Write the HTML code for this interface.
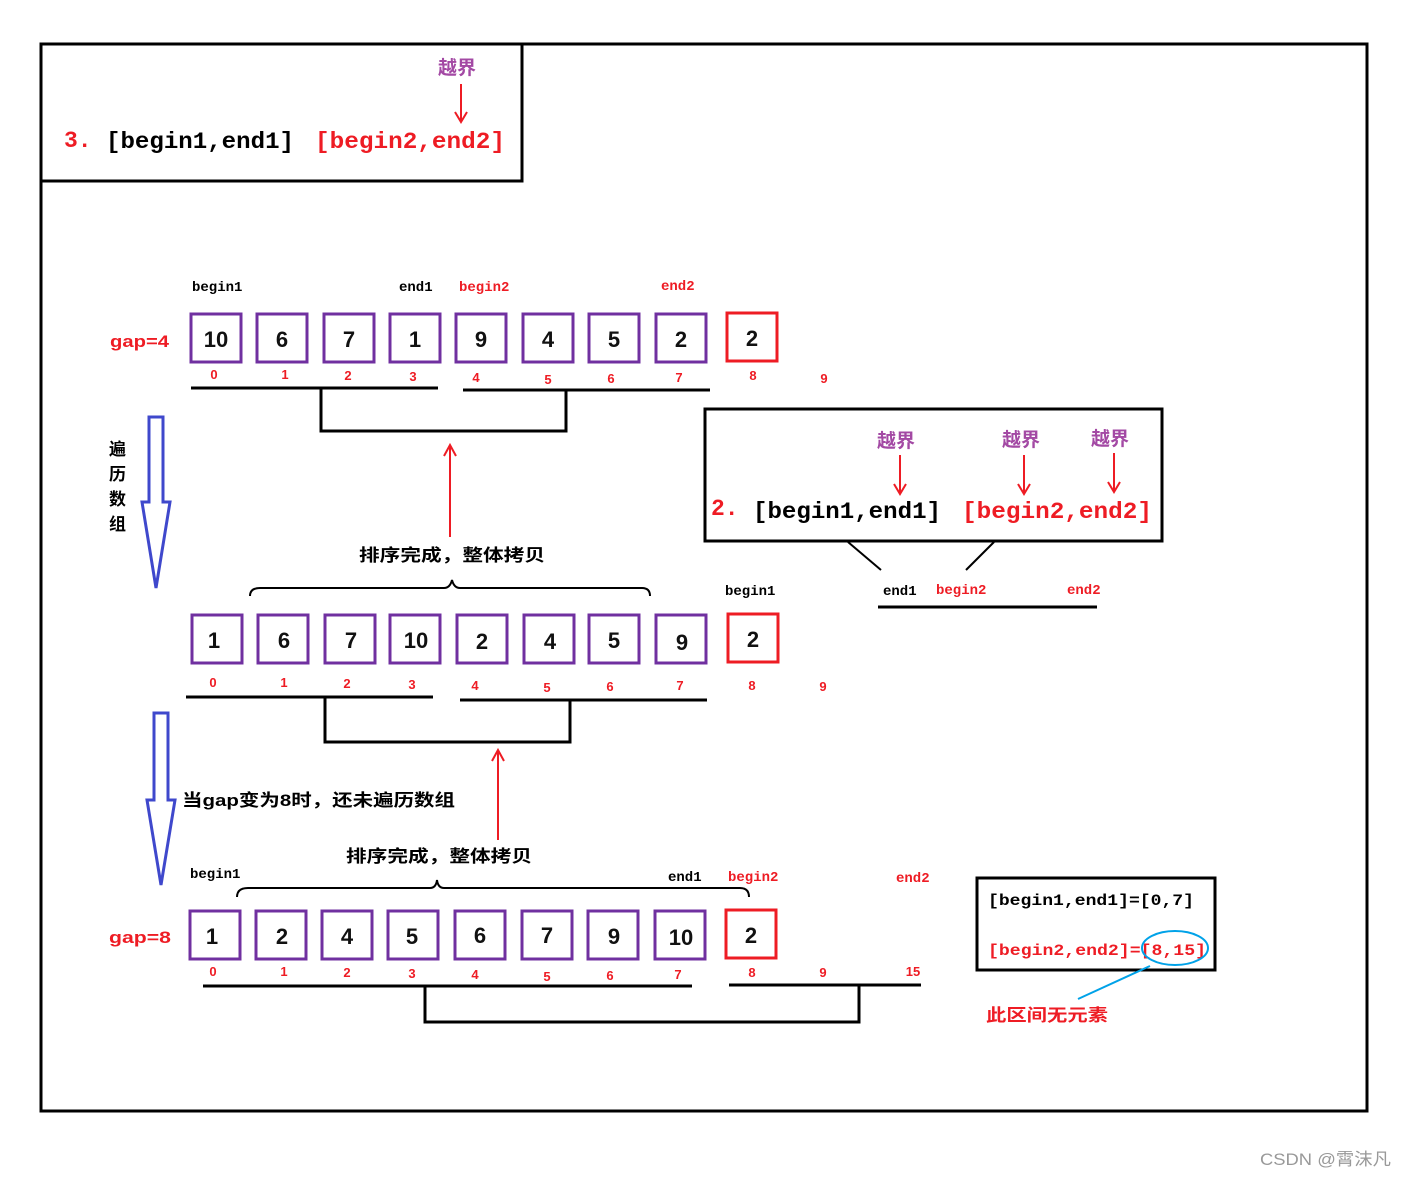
<!DOCTYPE html>
<html><head><meta charset="utf-8"><style>
html,body{margin:0;padding:0;background:#fff;}
svg{display:block;}
text{font-family:"Liberation Sans","Noto Sans CJK SC",sans-serif;font-weight:bold;}
.m{font-family:"Liberation Mono","Noto Sans CJK SC",monospace;}
.r{fill:#ee1c24;}
.p{fill:#a349a4;}
.k{fill:#000;}
.box{fill:none;stroke:#7030a0;stroke-width:3;}
.rb{fill:none;stroke:#ee1c24;stroke-width:3;}
.num{font-size:22px;text-anchor:middle;fill:#111;}
.idx{font-size:13px;text-anchor:middle;fill:#ee1c24;}
.lb{font-size:14px;}
</style></head><body>
<svg width="1407" height="1177" viewBox="0 0 1407 1177" xmlns="http://www.w3.org/2000/svg">
<rect x="41" y="44" width="1326" height="1067" fill="none" stroke="#000" stroke-width="3"/>
<rect x="41" y="44" width="481" height="137" fill="none" stroke="#000" stroke-width="3"/>
<text x="438" y="74" class="p" font-size="19">越界</text>
<line x1="461" y1="84" x2="461" y2="120" stroke="#ee1c24" stroke-width="2"/>
<path d="M455,112 L461,122 L467,112" fill="none" stroke="#ee1c24" stroke-width="2"/>
<text x="64" y="147" class="m r" font-size="23" font-weight="normal">3.</text>
<text x="106" y="148" class="m k" font-size="23" textLength="188" lengthAdjust="spacingAndGlyphs">[begin1,end1]</text>
<text x="315" y="148" class="m r" font-size="23" font-weight="normal" textLength="190" lengthAdjust="spacingAndGlyphs">[begin2,end2]</text>

<text x="192" y="291" class="m k lb">begin1</text>
<text x="399" y="291" class="m k lb">end1</text>
<text x="459" y="291" class="m r lb">begin2</text>
<text x="661" y="290" class="m r lb">end2</text>
<text x="110" y="347" class="r" font-size="17" font-weight="normal" textLength="59" lengthAdjust="spacingAndGlyphs">gap=4</text>
<g>
<rect x="191" y="314" width="50" height="48" class="box"/><text x="216" y="347" class="num">10</text>
<rect x="257" y="314" width="50" height="48" class="box"/><text x="282" y="347" class="num">6</text>
<rect x="324" y="314" width="50" height="48" class="box"/><text x="349" y="347" class="num">7</text>
<rect x="390" y="314" width="50" height="48" class="box"/><text x="415" y="347" class="num">1</text>
<rect x="456" y="314" width="50" height="48" class="box"/><text x="481" y="347" class="num">9</text>
<rect x="523" y="314" width="50" height="48" class="box"/><text x="548" y="347" class="num">4</text>
<rect x="589" y="314" width="50" height="48" class="box"/><text x="614" y="347" class="num">5</text>
<rect x="656" y="314" width="50" height="48" class="box"/><text x="681" y="347" class="num">2</text>
<rect x="727" y="313" width="50" height="48" class="rb"/><text x="752" y="346" class="num">2</text>
</g>
<text x="214" y="379" class="idx">0</text><text x="285" y="379" class="idx">1</text><text x="348" y="380" class="idx">2</text><text x="413" y="381" class="idx">3</text><text x="476" y="382" class="idx">4</text><text x="548" y="384" class="idx">5</text><text x="611" y="383" class="idx">6</text><text x="679" y="382" class="idx">7</text><text x="753" y="380" class="idx">8</text><text x="824" y="383" class="idx">9</text>
<g stroke="#000" stroke-width="3" fill="none">
<line x1="191" y1="388" x2="438" y2="388"/>
<line x1="463" y1="390" x2="710" y2="390"/>
<path d="M321,388 V431 H566 V390"/>
</g>

<path d="M149,417 H163 V502 H170 L156,588 L142,502 H149 Z" fill="none" stroke="#3f48cc" stroke-width="3"/>
<text x="109" y="455" class="k" font-size="17">遍</text>
<text x="109" y="480" class="k" font-size="17">历</text>
<text x="109" y="505" class="k" font-size="17">数</text>
<text x="109" y="530" class="k" font-size="17">组</text>

<line x1="450" y1="537" x2="450" y2="446" stroke="#ee1c24" stroke-width="2"/>
<path d="M444,456 L450,445 L456,456" fill="none" stroke="#ee1c24" stroke-width="2"/>
<text x="359" y="561" class="k" font-size="17" textLength="186" lengthAdjust="spacingAndGlyphs">排序完成，整体拷贝</text>
<path d="M250,596 Q250,588 260,588 H444 Q450,588 452,580 Q454,588 460,588 H642 Q650,588 650,596" fill="none" stroke="#000" stroke-width="2"/>

<rect x="705" y="409" width="457" height="132" fill="none" stroke="#000" stroke-width="3"/>
<text x="877" y="447" class="p" font-size="19">越界</text>
<text x="1002" y="446" class="p" font-size="19">越界</text>
<text x="1091" y="445" class="p" font-size="19">越界</text>
<g stroke="#ee1c24" stroke-width="2" fill="none">
<line x1="900" y1="455" x2="900" y2="492"/><path d="M894,484 L900,494 L906,484"/>
<line x1="1024" y1="455" x2="1024" y2="492"/><path d="M1018,484 L1024,494 L1030,484"/>
<line x1="1114" y1="453" x2="1114" y2="490"/><path d="M1108,482 L1114,492 L1120,482"/>
</g>
<text x="711" y="515" class="m r" font-size="23" font-weight="normal">2.</text>
<text x="753" y="518" class="m k" font-size="23" textLength="188" lengthAdjust="spacingAndGlyphs">[begin1,end1]</text>
<text x="962" y="518" class="m r" font-size="23" font-weight="normal" textLength="190" lengthAdjust="spacingAndGlyphs">[begin2,end2]</text>
<line x1="848" y1="542" x2="881" y2="570" stroke="#000" stroke-width="2"/>
<line x1="994" y1="542" x2="966" y2="570" stroke="#000" stroke-width="2"/>
<text x="725" y="595" class="m k lb">begin1</text>
<text x="883" y="595" class="m k lb">end1</text>
<text x="936" y="594" class="m r lb">begin2</text>
<text x="1067" y="594" class="m r lb">end2</text>
<line x1="878" y1="607" x2="1097" y2="607" stroke="#000" stroke-width="3"/>

<g>
<rect x="192" y="615" width="50" height="48" class="box"/><text x="214" y="648" class="num">1</text>
<rect x="258" y="615" width="50" height="48" class="box"/><text x="284" y="648" class="num">6</text>
<rect x="325" y="615" width="50" height="48" class="box"/><text x="351" y="648" class="num">7</text>
<rect x="390" y="615" width="50" height="48" class="box"/><text x="416" y="648" class="num">10</text>
<rect x="457" y="615" width="50" height="48" class="box"/><text x="482" y="649" class="num">2</text>
<rect x="524" y="615" width="50" height="48" class="box"/><text x="550" y="649" class="num">4</text>
<rect x="589" y="615" width="50" height="48" class="box"/><text x="614" y="648" class="num">5</text>
<rect x="656" y="615" width="50" height="48" class="box"/><text x="682" y="650" class="num">9</text>
<rect x="728" y="614" width="50" height="48" class="rb"/><text x="753" y="647" class="num">2</text>
</g>
<text x="213" y="687" class="idx">0</text><text x="284" y="687" class="idx">1</text><text x="347" y="688" class="idx">2</text><text x="412" y="689" class="idx">3</text><text x="475" y="690" class="idx">4</text><text x="547" y="692" class="idx">5</text><text x="610" y="691" class="idx">6</text><text x="680" y="690" class="idx">7</text><text x="752" y="690" class="idx">8</text><text x="823" y="691" class="idx">9</text>
<g stroke="#000" stroke-width="3" fill="none">
<line x1="186" y1="697" x2="433" y2="697"/>
<line x1="460" y1="700" x2="707" y2="700"/>
<path d="M325,697 V742 H570 V700"/>
</g>

<path d="M154,713 H168 V800 H175 L161,885 L147,800 H154 Z" fill="none" stroke="#3f48cc" stroke-width="3"/>
<text x="182" y="806" class="k" font-size="17" textLength="273" lengthAdjust="spacingAndGlyphs">当gap变为8时，还未遍历数组</text>
<line x1="498" y1="840" x2="498" y2="751" stroke="#ee1c24" stroke-width="2"/>
<path d="M492,761 L498,750 L504,761" fill="none" stroke="#ee1c24" stroke-width="2"/>
<text x="346" y="862" class="k" font-size="17" textLength="186" lengthAdjust="spacingAndGlyphs">排序完成，整体拷贝</text>
<path d="M237,897 Q237,888 248,888 H430 Q436,888 437,880 Q438,888 444,888 H740 Q749,888 749,897" fill="none" stroke="#000" stroke-width="2"/>
<text x="190" y="878" class="m k lb">begin1</text>
<text x="668" y="881" class="m k lb">end1</text>
<text x="728" y="881" class="m r lb">begin2</text>
<text x="896" y="882" class="m r lb">end2</text>

<text x="109" y="943" class="r" font-size="17" font-weight="normal" textLength="62" lengthAdjust="spacingAndGlyphs">gap=8</text>
<g>
<rect x="190" y="911" width="50" height="48" class="box"/><text x="212" y="944" class="num">1</text>
<rect x="256" y="911" width="50" height="48" class="box"/><text x="282" y="944" class="num">2</text>
<rect x="322" y="911" width="50" height="48" class="box"/><text x="347" y="944" class="num">4</text>
<rect x="388" y="911" width="50" height="48" class="box"/><text x="412" y="944" class="num">5</text>
<rect x="455" y="911" width="50" height="48" class="box"/><text x="480" y="943" class="num">6</text>
<rect x="522" y="911" width="50" height="48" class="box"/><text x="547" y="943" class="num">7</text>
<rect x="588" y="911" width="50" height="48" class="box"/><text x="614" y="944" class="num">9</text>
<rect x="655" y="911" width="50" height="48" class="box"/><text x="681" y="945" class="num">10</text>
<rect x="726" y="910" width="50" height="48" class="rb"/><text x="751" y="943" class="num">2</text>
</g>
<text x="213" y="976" class="idx">0</text><text x="284" y="976" class="idx">1</text><text x="347" y="977" class="idx">2</text><text x="412" y="978" class="idx">3</text><text x="475" y="979" class="idx">4</text><text x="547" y="981" class="idx">5</text><text x="610" y="980" class="idx">6</text><text x="678" y="979" class="idx">7</text><text x="752" y="977" class="idx">8</text><text x="823" y="977" class="idx">9</text><text x="913" y="976" class="idx">15</text>
<g stroke="#000" stroke-width="3" fill="none">
<line x1="203" y1="986" x2="692" y2="986"/>
<line x1="729" y1="985" x2="921" y2="985"/>
<path d="M425,986 V1022 H859 V985"/>
</g>

<rect x="977" y="878" width="238" height="92" fill="none" stroke="#000" stroke-width="3"/>
<text x="988" y="905" class="m k" font-size="16" textLength="206" lengthAdjust="spacingAndGlyphs">[begin1,end1]=[0,7]</text>
<text x="988" y="955" class="m r" font-size="16" textLength="218" lengthAdjust="spacingAndGlyphs">[begin2,end2]=[8,15]</text>
<ellipse cx="1175" cy="948" rx="33" ry="17" fill="none" stroke="#00a2e8" stroke-width="2"/>
<line x1="1150" y1="966" x2="1078" y2="999" stroke="#00a2e8" stroke-width="2"/>
<text x="986" y="1021" class="r" font-size="17" textLength="122" lengthAdjust="spacingAndGlyphs">此区间无元素</text>

<text x="1260" y="1165" fill="#999" font-size="17" style="font-weight:normal" textLength="131" lengthAdjust="spacingAndGlyphs">CSDN @霄沫凡</text>
</svg>
</body></html>
